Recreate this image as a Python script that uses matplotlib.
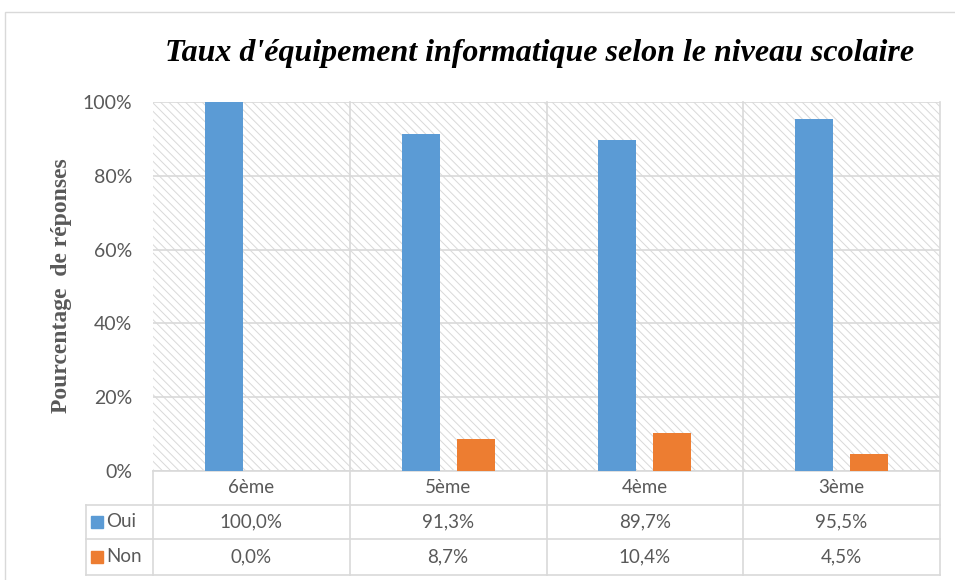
import matplotlib
matplotlib.use("Agg")
import matplotlib.pyplot as plt
from matplotlib.patches import Rectangle
from matplotlib.transforms import blended_transform_factory

# data
niveaux = ["6ème", "5ème", "4ème", "3ème"]
oui = [100.0, 91.3, 89.7, 95.5]
non = [0.0, 8.7, 10.4, 4.5]
oui_txt = ["100,0%", "91,3%", "89,7%", "95,5%"]
non_txt = ["0,0%", "8,7%", "10,4%", "4,5%"]
yticks = [0, 20, 40, 60, 80, 100]

blue = "#5b9bd5"
orange = "#ed7d31"
grid_c = "#d9d9d9"
txt_c = "#595959"
sans = ["Lato", "DejaVu Sans"]

plt.rcParams["hatch.linewidth"] = 0.7
plt.rcParams["hatch.color"] = grid_c

fig = plt.figure(figsize=(9.55, 5.8), dpi=100)

# outer frame of the chart
fig.patches.append(Rectangle((5 / 955, -0.01), 1.0, 1 - 12 / 580 + 0.01,
                             transform=fig.transFigure, fill=False,
                             edgecolor=grid_c, linewidth=1.0))

ax = fig.add_axes([153 / 955, 1 - 471 / 580, 787 / 955, 369 / 580])
ax.set_xlim(-0.5, 3.5)
ax.set_ylim(0, 100)

# hatched background
ax.add_patch(Rectangle((0, 0), 1, 1, transform=ax.transAxes, facecolor="white",
                       hatch="\\\\\\\\", edgecolor=grid_c, linewidth=0, zorder=0))

x = range(len(niveaux))
w = 0.193
off = 0.14
ax.bar([i - off for i in x], oui, width=w, color=blue, zorder=3)
ax.bar([i + off for i in x], non, width=w, color=orange, zorder=3)

# gridlines
for v in yticks:
    ax.axhline(v, color=grid_c, linewidth=1.2, zorder=1)
for s in ax.spines.values():
    s.set_visible(False)
ax.set_xticks([])
ax.set_yticks(yticks)
ax.set_yticklabels([f"{v}%" for v in yticks], fontsize=14, color=txt_c, family=sans)
ax.tick_params(axis="y", length=0, pad=15)

# data table under the axis
tr = blended_transform_factory(ax.transData, ax.transAxes)
rows = [0, -0.0921, -0.1843, -0.2818]
left = -0.84
lk = dict(color=grid_c, linewidth=1.2, transform=tr, clip_on=False, zorder=2)
# vertical lines
for b in [-0.5, 0.5, 1.5, 2.5, 3.5]:
    top = 1 if b > -0.5 else 0
    ax.plot([b, b], [rows[-1], top], **lk)
ax.plot([left, left], [rows[1], rows[-1]], **lk)
# horizontal lines
ax.plot([-0.5, 3.5], [rows[0], rows[0]], **lk)
for r in rows[1:]:
    ax.plot([left, 3.5], [r, r], **lk)

def mid(a, b):
    return (a + b) / 2

fs = 13.5
for i in x:
    ax.text(i, mid(rows[0], rows[1]), niveaux[i], transform=tr, ha="center", va="center",
            fontsize=fs, color=txt_c, family=sans)
    ax.text(i, mid(rows[1], rows[2]), oui_txt[i], transform=tr, ha="center", va="center",
            fontsize=fs, color=txt_c, family=sans)
    ax.text(i, mid(rows[2], rows[3]), non_txt[i], transform=tr, ha="center", va="center",
            fontsize=fs, color=txt_c, family=sans)

# legend keys inside the table
for lab, col, (r0, r1) in [("Oui", blue, (rows[1], rows[2])), ("Non", orange, (rows[2], rows[3]))]:
    ym = mid(r0, r1)
    ax.plot([-0.785], [ym], marker="s", markersize=8, color=col, transform=tr,
            clip_on=False, linestyle="none")
    ax.text(-0.74, ym, lab, transform=tr, ha="left", va="center",
            fontsize=fs, color=txt_c, family=sans)

# titles
fig.text(540 / 955, 1 - 54 / 580, "Taux d'équipement informatique selon le niveau scolaire",
         ha="center", va="center", fontsize=23, fontweight="bold", fontstyle="italic",
         family="Liberation Serif")
fig.text(61 / 955, 1 - 286 / 580, "Pourcentage  de réponses", rotation=90,
         ha="center", va="center", fontsize=17, fontweight="bold",
         family="Liberation Serif", color="#595959")

fig.savefig("out.png", dpi=100)
